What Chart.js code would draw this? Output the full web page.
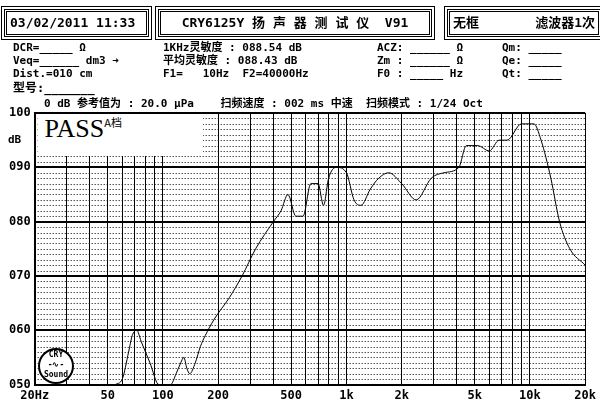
<!DOCTYPE html>
<html><head><meta charset="utf-8">
<script src="https://cdn.jsdelivr.net/npm/chart.js@4"></script>
<style>
body{margin:0;background:#fff;width:600px;height:413px;overflow:hidden;font-family:"DejaVu Sans Mono","Noto Sans CJK SC",monospace;font-weight:bold;color:#000}
#wrap{position:relative;width:600px;height:413px}
canvas{position:absolute;left:0;top:0}
.box{position:absolute;border:3px double #000;outline:1px solid #000;outline-offset:2px;font-size:13px;line-height:22px;height:22px;padding:0 3px;top:9px}
.t{position:absolute;font-size:11px;white-space:nowrap;line-height:13px}
#pass{position:absolute;left:38px;top:114px;width:165px;height:42px;background:#fff;font-family:"Liberation Serif",serif;font-weight:normal;font-size:26px}
#logo{position:absolute;left:38px;top:348px;width:32px;height:32px;border:2px solid #000;border-radius:50%;font-size:8px;text-align:center;line-height:10px;background:#fff}
</style></head><body><div id="wrap">
<canvas id="chart" width="600" height="413"></canvas>
<div class="box" style="left:4px;width:133px">03/02/2011 11:33</div>
<div class="box" style="left:158px;width:262px;text-align:center">CRY6125Y 扬 声 器 测 试 仪 &nbsp;V91</div>
<div class="box" style="left:447px;width:142px">无框<span style="float:right">滤波器1次</span></div>
<div class="t" style="left:13px;top:41px">DCR=_____ Ω<br>Veq=______ dm3 ➜<br>Dist.=010 cm</div>
<div class="t" style="left:13px;top:82px;font-size:12px">型号:_______</div>
<div class="t" style="left:163px;top:41px">1KHz灵敏度 : 088.54 dB<br>平均灵敏度 : 088.43 dB<br>F1=&nbsp;&nbsp; 10Hz&nbsp; F2=40000Hz</div>
<div class="t" style="left:377px;top:41px">ACZ: ______ Ω<br>Zm : ______ Ω<br>F0 : _____ Hz</div>
<div class="t" style="left:502px;top:41px">Qm: _____<br>Qe: _____<br>Qt: _____</div>
<div class="t" style="left:44px;top:97px">0 dB 参考值为 : 20.0 μPa&nbsp;&nbsp;&nbsp; 扫频速度 : 002 ms 中速&nbsp; 扫频模式 : 1/24 Oct</div>
<div class="t" style="left:8px;top:133px">dB</div>
<div id="pass">&nbsp;PASS<sup style="font-size:11px;font-family:'Noto Sans CJK SC'">A档</sup></div>
<div id="logo">CRY<br>-∿-<br>Sound</div>
</div>
<script>
const freqs = [55, 60, 65, 68, 72, 76, 85, 95, 110, 118, 125, 130, 135, 140, 150, 160, 170, 190, 230, 270, 320, 400, 440, 480, 530, 580, 640, 700, 750, 800, 880, 1000, 1100, 1200, 1350, 1500, 1700, 2000, 2400, 2900, 3400, 4100, 4500, 5200, 6000, 6800, 7500, 9000, 10500, 11500, 13000, 14500, 16500, 20000];
const levels = [50, 51, 56, 59, 60, 58, 54, 50, 50, 52, 54, 55, 53, 52, 54, 57, 59, 62, 66, 70, 75, 80, 82, 85, 81, 81, 87, 87, 83, 88, 90, 89, 84, 83, 86, 88, 89, 87, 84, 88, 89, 90, 94, 94, 93, 95, 95, 98, 98, 95, 88, 80, 75, 72];
const xLabels = {20: "20Hz", 50: "50", 100: "100", 200: "200", 500: "500", 1000: "1k", 2000: "2k", 5000: "5k", 10000: "10k", 20000: "20k"};
const yTicks = [50, 60, 70, 80, 90, 100];

const gridFreqs = [];
[10, 100, 1000, 10000].forEach(d => { for (let m = 1; m < 10; m++) { const f = d * m; if (f >= 20 && f <= 20000) gridFreqs.push(f); } });

const monoFont = {family: "DejaVu Sans Mono", weight: "bold", size: 12};

// dotted minor grid every 1 dB
const dotted = {
  id: "dotted",
  beforeDatasetsDraw(chart) {
    const {ctx, chartArea: a, scales: {y}} = chart;
    ctx.save();
    ctx.strokeStyle = "#000";
    ctx.lineWidth = 1;
    ctx.setLineDash([1, 2]);
    for (let v = 51; v < 100; v++) {
      if (v % 10 === 0) continue;
      const py = Math.round(y.getPixelForValue(v)) + 0.5;
      ctx.beginPath(); ctx.moveTo(a.left, py); ctx.lineTo(a.right, py); ctx.stroke();
    }
    ctx.restore();
  }
};

new Chart(document.getElementById("chart"), {
  type: "line",
  data: {datasets: [{data: freqs.map((f, i) => ({x: f, y: levels[i]})), borderColor: "#000", borderWidth: 1, pointRadius: 0, tension: 0.35, cubicInterpolationMode: "monotone"}]},
  options: {
    responsive: false, animation: false,
    layout: {padding: {top: 113, right: 12, bottom: 6, left: 5}},
    plugins: {legend: {display: false}, tooltip: {enabled: false}},
    scales: {
      x: {
        type: "logarithmic", min: 20, max: 20000,
        afterBuildTicks: s => { s.ticks = gridFreqs.map(v => ({value: v})); },
        ticks: {autoSkip: false, maxRotation: 0, color: "#000", font: monoFont, padding: 4, callback: v => xLabels[v] || ""},
        grid: {color: "#000", lineWidth: 1, drawTicks: false},
        border: {color: "#000", width: 2}
      },
      y: {
        min: 50, max: 100,
        afterBuildTicks: s => { s.ticks = yTicks.map(v => ({value: v})); },
        ticks: {color: "#000", font: monoFont, padding: 4, callback: v => String(v).padStart(3, "0")},
        grid: {color: "#000", lineWidth: 2, drawTicks: false},
        border: {color: "#000", width: 2}
      }
    }
  },
  plugins: [dotted]
});
</script></body></html>
